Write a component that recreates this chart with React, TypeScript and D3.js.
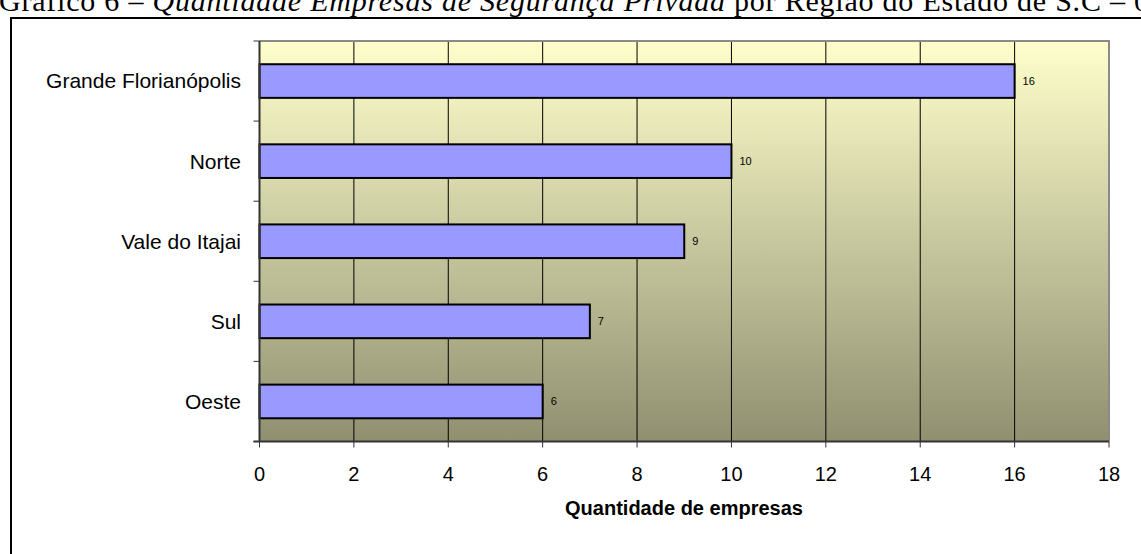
import React from "react";
import * as d3 from "d3";

const regions = ["Grande Florianópolis", "Norte", "Vale do Itajai", "Sul", "Oeste"];
const companies = [16, 10, 9, 7, 6];
const xTicks = [0, 2, 4, 6, 8, 10, 12, 14, 16, 18];
const axisTitle = "Quantidade de empresas";

const W = 1141;
const H = 554;
const plot = { left: 259.5, right: 1109, top: 41, bottom: 441.5 };
const sans = "'Liberation Sans', Arial, sans-serif";

export default function App() {
  const x = d3.scaleLinear().domain([0, 18]).range([plot.left, plot.right]);
  const y = d3
    .scaleBand<string>()
    .domain(regions)
    .range([plot.top, plot.bottom])
    .paddingInner(0.58)
    .paddingOuter(0.29);
  const band = (plot.bottom - plot.top) / regions.length;
  const catTicks = d3.range(regions.length + 1).map((i) => plot.top + i * band);

  return (
    <div style={{ position: "absolute", left: 0, top: 0, width: W, height: H, overflow: "hidden", background: "#fff" }}>
      <svg width={W} height={H} style={{ display: "block" }}>
        <defs>
          <linearGradient id="plotBg" x1="0" y1="0" x2="0" y2="1">
            <stop offset="0%" stopColor="#FFFFCC" />
            <stop offset="100%" stopColor="#909071" />
          </linearGradient>
        </defs>

        {/* caption line, running off the top of the page */}
        <text
          x={-1}
          y={11}
          fontFamily="'Liberation Serif', 'Times New Roman', serif"
          fontSize={30}
          fill="#000"
          textLength={1150}
          lengthAdjust="spacing"
        >
          Gráfico 6 – <tspan fontStyle="italic">Quantidade Empresas de Segurança Privada</tspan> por Região do Estado de S.C – 0
        </text>

        {/* outer frame */}
        <rect x={11} y={18} width={W + 20} height={H} fill="none" stroke="#000" strokeWidth={2} />

        {/* plot background */}
        <rect
          x={plot.left}
          y={plot.top}
          width={plot.right - plot.left}
          height={plot.bottom - plot.top}
          fill="url(#plotBg)"
        />

        {/* vertical gridlines */}
        {xTicks.slice(1, -1).map((t) => (
          <line key={t} x1={x(t)} x2={x(t)} y1={plot.top} y2={plot.bottom} stroke="#000" strokeWidth={1} />
        ))}

        {/* plot border (top / right) */}
        <path
          d={`M${plot.left},${plot.top}H${plot.right}V${plot.bottom}`}
          fill="none"
          stroke="#8a8a8a"
          strokeWidth={2}
        />

        {/* bars */}
        {regions.map((r, i) => (
          <g key={r}>
            <rect
              x={x(0)}
              y={y(r)!}
              width={x(companies[i]) - x(0)}
              height={y.bandwidth()}
              fill="#9999FF"
              stroke="#000"
              strokeWidth={2}
            />
            <text
              x={x(companies[i]) + 8}
              y={y(r)! + y.bandwidth() / 2}
              dy="0.35em"
              fontFamily={sans}
              fontSize={11}
              fill="#000"
            >
              {companies[i]}
            </text>
          </g>
        ))}

        {/* category axis */}
        <line x1={plot.left} x2={plot.left} y1={plot.top} y2={plot.bottom} stroke="#333" strokeWidth={2} />
        {catTicks.map((t, i) => (
          <line key={i} x1={plot.left - 6} x2={plot.left} y1={t} y2={t} stroke="#333" strokeWidth={1} />
        ))}
        {regions.map((r) => (
          <text
            key={r}
            x={241}
            y={y(r)! + y.bandwidth() / 2}
            dy="0.35em"
            textAnchor="end"
            fontFamily={sans}
            fontSize={21}
            fill="#000"
          >
            {r}
          </text>
        ))}

        {/* value axis */}
        <line x1={plot.left - 6} x2={plot.right} y1={plot.bottom} y2={plot.bottom} stroke="#333" strokeWidth={2} />
        {xTicks.map((t) => (
          <g key={t}>
            <line x1={x(t)} x2={x(t)} y1={plot.bottom} y2={plot.bottom + 6} stroke="#333" strokeWidth={1} />
            <text
              x={x(t)}
              y={474}
              dy="0.35em"
              textAnchor="middle"
              fontFamily={sans}
              fontSize={20}
              fill="#000"
            >
              {t}
            </text>
          </g>
        ))}
        <text
          x={684}
          y={508}
          dy="0.35em"
          textAnchor="middle"
          fontFamily={sans}
          fontSize={20}
          fontWeight="bold"
          fill="#000"
        >
          {axisTitle}
        </text>
      </svg>
    </div>
  );
}
